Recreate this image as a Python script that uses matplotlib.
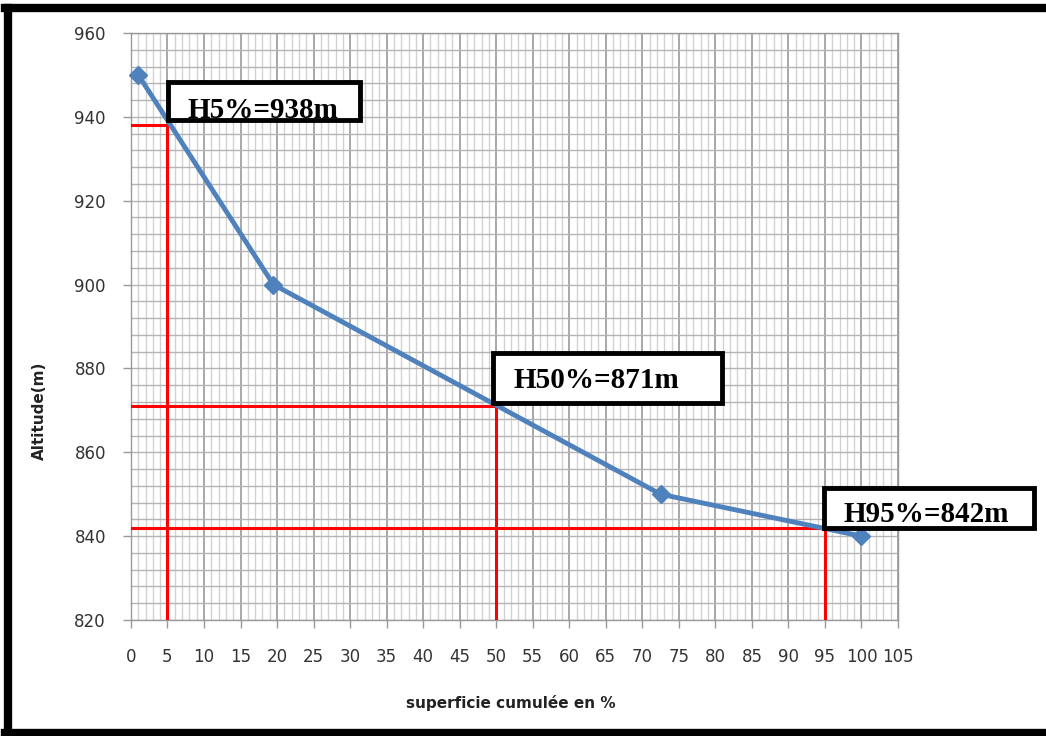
import numpy as np
import matplotlib
matplotlib.use('Agg')
import matplotlib.pyplot as plt
from matplotlib.patches import Rectangle
from matplotlib.ticker import MultipleLocator

# courbe hypsometrique
superficie = [1, 19.5, 72.5, 100]
altitude = [950, 900, 850, 840]

# altitudes caracteristiques
pct_levels = [5, 50, 95]
h_levels = [938, 871, 842]
labels = ['H5%=938m', 'H50%=871m', 'H95%=842m']

x_ticks = list(range(0, 110, 5))
y_ticks = list(range(820, 961, 20))

fig = plt.figure(figsize=(10.46, 7.36), dpi=100)
ax = fig.add_axes([0.1252, 0.1576, 0.8585 - 0.1252, 0.9552 - 0.1576])

ax.set_xlim(0, 105)
ax.set_ylim(820, 960)
ax.set_xticks(x_ticks)
ax.set_yticks(y_ticks)
ax.xaxis.set_minor_locator(MultipleLocator(1))
ax.yaxis.set_minor_locator(MultipleLocator(4))

ax.grid(which='minor', axis='x', color='#d2d2d2', lw=1.0)
ax.grid(which='major', axis='x', color='#999999', lw=1.2)
ax.grid(which='both', axis='y', color='#b4b4b4', lw=1.0)
ax.set_axisbelow(True)

for s in ax.spines.values():
    s.set_color('#999999')
    s.set_linewidth(1.0)

ax.tick_params(which='major', length=6, width=1, color='#999999',
               labelsize=12, labelcolor='#333333')
ax.tick_params(which='minor', length=0)
ax.tick_params(axis='y', pad=12)
ax.tick_params(axis='x', pad=14)

# lignes rouges
for p, h in zip(pct_levels, h_levels):
    ax.plot([0, p], [h, h], color='red', lw=2.2, zorder=3)
    ax.plot([p, p], [820, h], color='red', lw=2.2, zorder=3)

ax.plot(superficie, altitude, color='#4f81bd', lw=3.5, marker='D',
        markersize=9, zorder=4, clip_on=False)

fig.text(0.038, 0.442, 'Altitude(m)', rotation=90, ha='center', va='center',
         fontsize=11, fontweight='bold', color='#222222')
fig.text(0.488, 0.045, 'superficie cumulée en %', ha='center', va='center',
         fontsize=11, fontweight='bold', color='#222222')

# boites d'etiquettes (pixels)
boxes = [(168, 82, 360, 120), (493, 353, 722, 403), (824, 488, 1034, 528)]
text_pos = [(187, 118), (513, 388), (843, 522)]
W, H = 1046, 736
for (x0, y0, x1, y1), (tx, ty), lab in zip(boxes, text_pos, labels):
    fig.patches.append(Rectangle((x0 / W, 1 - y1 / H), (x1 - x0) / W, (y1 - y0) / H,
                                 transform=fig.transFigure, facecolor='white',
                                 edgecolor='black', lw=3.5, zorder=5))
    fig.text(tx / W, 1 - ty / H, lab, ha='left', va='baseline', fontsize=21,
             fontweight='bold', family='Liberation Serif', color='black', zorder=6)

# cadre exterieur
fr = dict(color='black', lw=6, transform=fig.transFigure, clip_on=False)
fig.lines.append(plt.Line2D([8 / W, 8 / W], [1 - 733 / H, 1 - 8 / H], **fr))
fig.lines.append(plt.Line2D([5 / W, 1], [1 - 8 / H, 1 - 8 / H], **fr))
fig.lines.append(plt.Line2D([5 / W, 1], [1 - 733 / H, 1 - 733 / H], **fr))

fig.savefig('out.png', dpi=100)
